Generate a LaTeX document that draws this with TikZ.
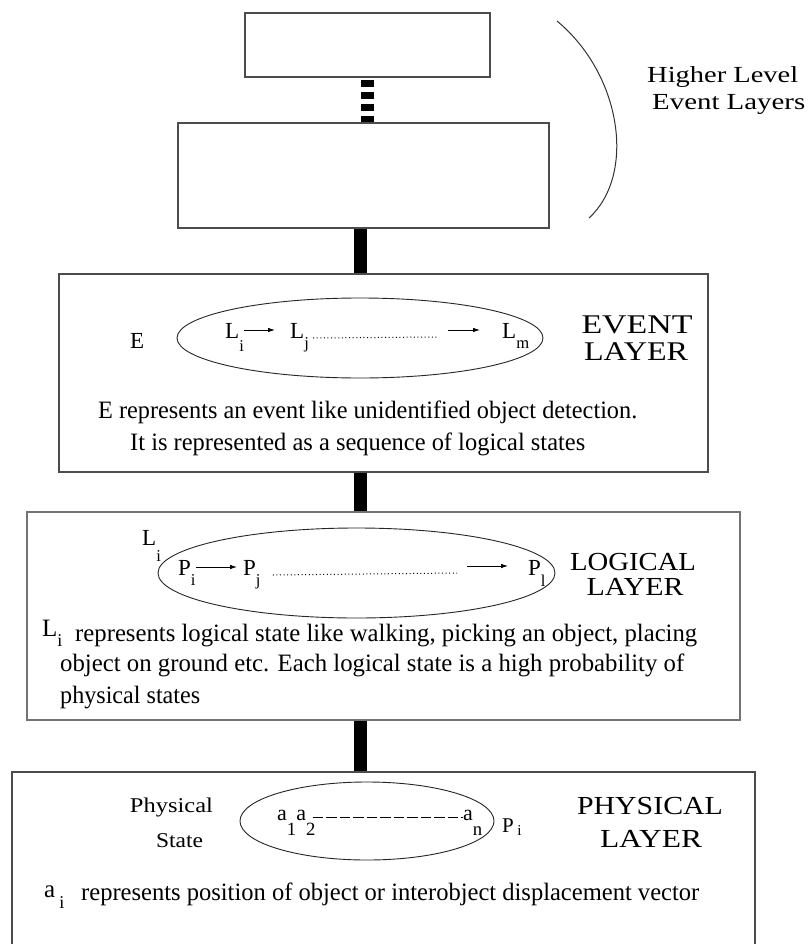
\documentclass[tikz,border=0pt]{standalone}
\usepackage{fontspec}
\setmainfont{Liberation Serif}
\usepackage{graphicx}
\usetikzlibrary{shapes.geometric,arrows.meta}

% a text line forced to a given width (pt) at a given size (pt)
\newcommand\fitw[3]{\resizebox{#1pt}{\height}{\fontsize{#2pt}{#2pt}\selectfont #3}}
% a lowered, reduced index letter
\newcommand\dn[2][0.45em]{\raisebox{-#1}{\scalebox{0.72}{#2}}}
% a lowered index digit, nearly full size
\newcommand\dnd[1]{\raisebox{-0.72em}{\scalebox{0.85}{#1}}}

\tikzset{
  layerbox/.style={draw=black!70, line width=1.2pt, rectangle, inner sep=0pt},
  bar/.style={line width=13pt, black},
  dashbar/.style={line width=13pt, black, dash pattern=on 7pt off 5pt, dash phase=10pt},
  oval/.style={draw=black!85, ellipse, line width=0.9pt, inner sep=0pt},
  txt/.style={inner sep=0pt, anchor=base west},
  ctxt/.style={inner sep=0pt, anchor=base},
  sym/.style={inner sep=0pt, anchor=base west, font=\fontsize{23pt}{23pt}\selectfont},
  flow/.style={-{Latex[length=7pt,width=4.5pt]}, line width=0.8pt},
  dots/.style={line width=1pt, dash pattern=on 1pt off 2.6pt},
  dashes/.style={line width=1pt, dash pattern=on 10.5pt off 3pt},
}

\begin{document}
\begin{tikzpicture}[x=1pt,y=-1pt]
\useasboundingbox (0,0) rectangle (811,944);
\fill[white] (0,0) rectangle (811,944);

% ---------- higher level event layers ----------
\node[layerbox, minimum width=245pt, minimum height=64pt] (top) at (367.5,45) {};
\node[layerbox, minimum width=371pt, minimum height=105pt] (mid) at (363.5,175.5) {};
\coordinate (arcTop) at (557,21);
\coordinate (arcBot) at (589,218);
\draw[line width=1pt, black!80] (arcTop) .. controls (622,75) and (636,175) .. (arcBot);
\node[txt] (hl1) at (647,83) {\fitw{151}{23}{Higher Level}};
\node[txt] (hl2) at (652,110) {\fitw{153}{23}{Event Layers}};

% ---------- event layer ----------
\node[layerbox, minimum width=649pt, minimum height=198pt] (event) at (383.5,373) {};
\node[oval, minimum width=366pt, minimum height=80pt] (ev) at (360,338) {};
\node[sym] (evE) at (130,348) {E};
\node[sym] (Li) at (225,338) {L\dn[0.6em]{i}};
\node[sym] (Lj) at (290,338) {L\dn{j}};
\node[sym] (Lm) at (502,338) {L\dn{m}};
\coordinate (evDotEnd) at (437,337);
\coordinate (evArr) at (448,330);
\draw[flow] ([yshift=8pt]Li.base east) -- ([shift={(-15pt,8pt)}]Lj.base west);
\draw[dots] ([xshift=4pt]Lj.base east) -- (evDotEnd);
\draw[flow] (evArr) -- ([shift={(-22pt,8pt)}]Lm.base west);
\node[ctxt] (evL1) at (637,333) {\fitw{111}{27}{EVENT}};
\node[ctxt] (evL2) at (636,360) {\fitw{104}{27}{LAYER}};
\node[txt] (evT1) at (98,418) {\fitw{539}{25}{E represents an event like unidentified object detection.}};
\node[txt] (evT2) at (130,450) {\fitw{455}{25}{It is represented as a sequence of logical states}};

% ---------- logical layer ----------
\node[layerbox, draw=black!55, minimum width=713pt, minimum height=208pt] (logical) at (383.5,616) {};
\node[oval, minimum width=397pt, minimum height=90pt] (lg) at (356.5,573) {};
\node[sym] (lgL) at (142,545) {L\dn[0.7em]{i}};
\node[sym] (Pi) at (178,575) {P\dn{i}};
\node[sym] (Pj) at (243,575) {P\dn{j}};
\node[sym] (Pl) at (528,575) {P\dn[0.5em]{l}};
\coordinate (lgDotEnd) at (457,573);
\coordinate (lgArr) at (467,566);
\draw[flow] ([yshift=8pt]Pi.base east) -- ([shift={(-6pt,8pt)}]Pj.base west);
\draw[dots] ([xshift=12pt]Pj.base east) -- (lgDotEnd);
\draw[flow] (lgArr) -- ([shift={(-20pt,9pt)}]Pl.base west);
\node[ctxt] (lgL1) at (633,570) {\fitw{126}{26}{LOGICAL}};
\node[ctxt] (lgL2) at (635,595) {\fitw{97}{26}{LAYER}};
\node[txt] (lgT0) at (42,636) {\fontsize{25pt}{25pt}\selectfont L\dn[0.4em]{i}};
\node[txt] (lgT1) at (75,641) {\fitw{622}{25}{represents logical state like walking, picking an object, placing}};
\node[txt] (lgT2) at (60,671) {\fitw{624}{25}{object on ground etc. Each logical state is a high probability of}};
\node[txt] (lgT3) at (60,703) {\fitw{140}{25}{physical states}};

% ---------- physical layer ----------
\node[layerbox, minimum width=743pt, minimum height=200pt] (physical) at (383.5,872) {};
\node[oval, minimum width=254pt, minimum height=78pt] (ph) at (367,821) {};
\node[ctxt] (phS1) at (171.5,812) {\fitw{83}{21}{Physical}};
\node[ctxt] (phS2) at (179.5,847) {\fitw{47}{21}{State}};
\node[sym, font=\fontsize{22pt}{22pt}\selectfont] (a12) at (277,820) {a\dnd{1}a\dnd{2}};
\node[sym, font=\fontsize{22pt}{22pt}\selectfont] (an) at (463,820) {a\dnd{n}};
\draw[dashes] ([xshift=-3pt]a12.base east |- ph.center) ++(0,4pt) -- ([yshift=4pt]an.base west |- ph.center);
\node[sym, font=\fontsize{21pt}{21pt}\selectfont] (phP) at (502,832) {P\,\dn[0.15em]{i}};
\node[ctxt] (phL1) at (650,814) {\fitw{146}{26}{PHYSICAL}};
\node[ctxt] (phL2) at (651,847) {\fitw{102}{26}{LAYER}};
\node[txt] (phT0) at (44,897) {\fontsize{25pt}{25pt}\selectfont a\,\dn[0.45em]{i}};
\node[txt] (phT1) at (81,900) {\fitw{618}{25}{represents position of object or interobject displacement vector}};

% ---------- connectors between layers ----------
\draw[dashbar] (top.south) -- (mid.north -| top.south);
\draw[bar] (mid.south -| ev.center) -- (event.north -| ev.center);
\draw[bar] (event.south -| ev.center) -- (logical.north -| ev.center);
\draw[bar] (logical.south -| ev.center) -- (physical.north -| ev.center);
\end{tikzpicture}
\end{document}
